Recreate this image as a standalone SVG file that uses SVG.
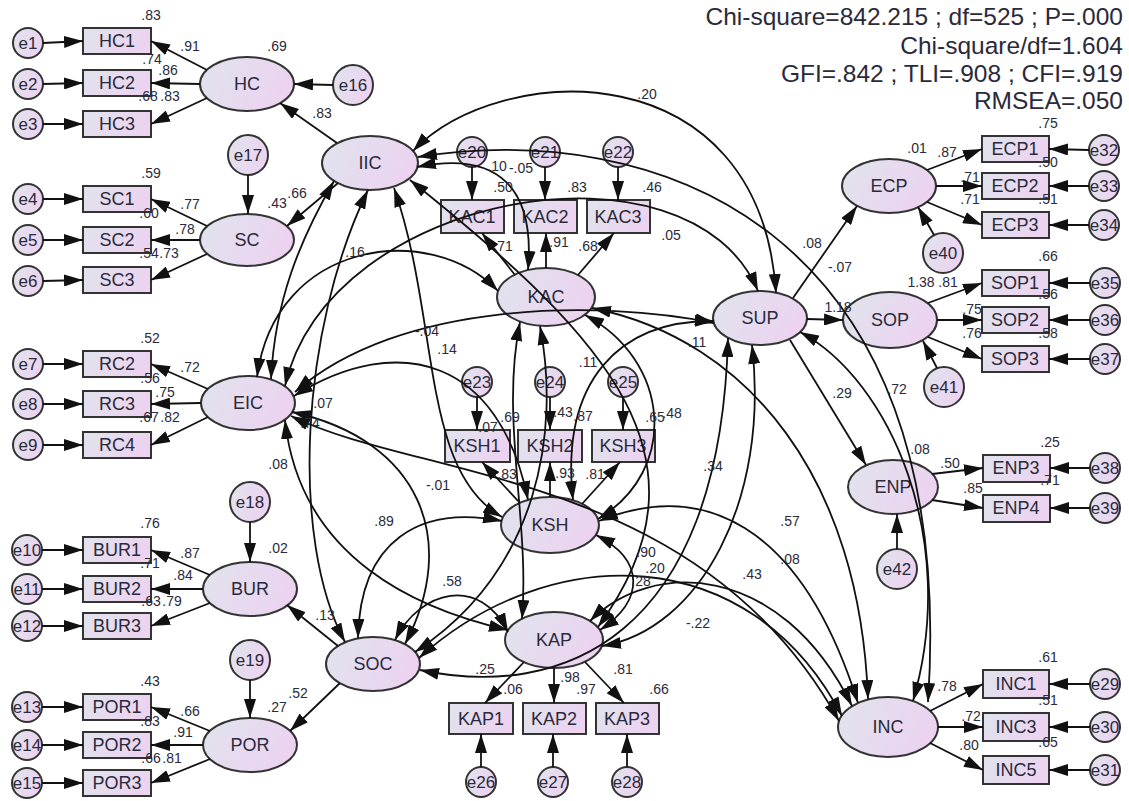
<svg xmlns="http://www.w3.org/2000/svg" width="1129" height="801" viewBox="0 0 1129 801">
<style>
text{font-family:"Liberation Sans",Arial,sans-serif;fill:#2a2a3a}
.n ellipse,.n rect,.n circle{fill:url(#g);stroke:#333;stroke-width:2}
.t{font-size:18px;text-anchor:middle}
.e{font-size:17px;text-anchor:middle}
.l text{font-size:14px;text-anchor:middle}
.c path{fill:none;stroke:#111;stroke-width:1.8}
.s{marker-end:url(#ah)}
.d{marker-start:url(#ah);marker-end:url(#ah)}
.fit{font-size:24.5px;text-anchor:end}
</style>
<defs>
<linearGradient id="g" x1="0" y1="0" x2="1" y2="0.3">
<stop offset="0" stop-color="#e0e4ed"/><stop offset="1" stop-color="#ecd3f0"/>
</linearGradient>
<marker id="ah" viewBox="0 0 19 12" markerWidth="19" markerHeight="12" refX="19" refY="6" markerUnits="userSpaceOnUse" orient="auto-start-reverse">
<path d="M0,0 L19,6 L0,12 z" fill="#111"/>
</marker>
</defs>
<rect width="1129" height="801" fill="#fff"/>

<g class="n" id="HC1"><rect x="83" y="28" width="68" height="26"/><text class="t" x="117" y="47">HC1</text></g>
<g class="n" id="HC2"><rect x="83" y="70" width="68" height="26"/><text class="t" x="117" y="89">HC2</text></g>
<g class="n" id="HC3"><rect x="83" y="111" width="68" height="26"/><text class="t" x="117" y="130">HC3</text></g>
<g class="n" id="SC1"><rect x="83" y="186" width="68" height="26"/><text class="t" x="117" y="205">SC1</text></g>
<g class="n" id="SC2"><rect x="83" y="227" width="68" height="26"/><text class="t" x="117" y="246">SC2</text></g>
<g class="n" id="SC3"><rect x="83" y="267" width="68" height="26"/><text class="t" x="117" y="286">SC3</text></g>
<g class="n" id="RC2"><rect x="83" y="351" width="68" height="26"/><text class="t" x="117" y="370">RC2</text></g>
<g class="n" id="RC3"><rect x="83" y="391" width="68" height="26"/><text class="t" x="117" y="410">RC3</text></g>
<g class="n" id="RC4"><rect x="83" y="432" width="68" height="26"/><text class="t" x="117" y="451">RC4</text></g>
<g class="n" id="BUR1"><rect x="83" y="537" width="68" height="26"/><text class="t" x="117" y="556">BUR1</text></g>
<g class="n" id="BUR2"><rect x="83" y="576" width="68" height="26"/><text class="t" x="117" y="595">BUR2</text></g>
<g class="n" id="BUR3"><rect x="83" y="613" width="68" height="26"/><text class="t" x="117" y="632">BUR3</text></g>
<g class="n" id="POR1"><rect x="83" y="694" width="68" height="26"/><text class="t" x="117" y="713">POR1</text></g>
<g class="n" id="POR2"><rect x="83" y="732" width="68" height="26"/><text class="t" x="117" y="751">POR2</text></g>
<g class="n" id="POR3"><rect x="83" y="770" width="68" height="26"/><text class="t" x="117" y="789">POR3</text></g>

<g class="n" id="e1"><circle cx="28" cy="43" r="15"/><text class="e" x="28" y="49">e1</text></g>
<g class="n" id="e2"><circle cx="28" cy="84" r="15"/><text class="e" x="28" y="90">e2</text></g>
<g class="n" id="e3"><circle cx="28" cy="124" r="15"/><text class="e" x="28" y="130">e3</text></g>
<g class="n" id="e4"><circle cx="28" cy="199" r="15"/><text class="e" x="28" y="205">e4</text></g>
<g class="n" id="e5"><circle cx="28" cy="240" r="15"/><text class="e" x="28" y="246">e5</text></g>
<g class="n" id="e6"><circle cx="28" cy="281" r="15"/><text class="e" x="28" y="287">e6</text></g>
<g class="n" id="e7"><circle cx="28" cy="364" r="15"/><text class="e" x="28" y="370">e7</text></g>
<g class="n" id="e8"><circle cx="28" cy="404" r="15"/><text class="e" x="28" y="410">e8</text></g>
<g class="n" id="e9"><circle cx="28" cy="445" r="15"/><text class="e" x="28" y="451">e9</text></g>
<g class="n" id="e10"><circle cx="27" cy="550" r="15"/><text class="e" x="27" y="556">e10</text></g>
<g class="n" id="e11"><circle cx="27" cy="589" r="15"/><text class="e" x="27" y="595">e11</text></g>
<g class="n" id="e12"><circle cx="27" cy="626" r="15"/><text class="e" x="27" y="632">e12</text></g>
<g class="n" id="e13"><circle cx="27" cy="707" r="15"/><text class="e" x="27" y="713">e13</text></g>
<g class="n" id="e14"><circle cx="27" cy="745" r="15"/><text class="e" x="27" y="751">e14</text></g>
<g class="n" id="e15"><circle cx="27" cy="783" r="15"/><text class="e" x="27" y="789">e15</text></g>

<g class="n" id="HC"><ellipse cx="247" cy="84" rx="47" ry="27"/><text class="t" x="247" y="90">HC</text></g>
<g class="n" id="SC"><ellipse cx="247" cy="240" rx="47" ry="26"/><text class="t" x="247" y="246">SC</text></g>
<g class="n" id="EIC"><ellipse cx="248" cy="403" rx="47" ry="27"/><text class="t" x="248" y="409">EIC</text></g>
<g class="n" id="BUR"><ellipse cx="250" cy="589" rx="47" ry="27"/><text class="t" x="250" y="595">BUR</text></g>
<g class="n" id="POR"><ellipse cx="250" cy="745" rx="47" ry="27"/><text class="t" x="250" y="751">POR</text></g>
<g class="n" id="IIC"><ellipse cx="370" cy="163" rx="48" ry="27"/><text class="t" x="370" y="169">IIC</text></g>
<g class="n" id="SOC"><ellipse cx="373" cy="664" rx="47" ry="27"/><text class="t" x="373" y="670">SOC</text></g>
<g class="n" id="KAC"><ellipse cx="546" cy="297" rx="49" ry="29"/><text class="t" x="546" y="303">KAC</text></g>
<g class="n" id="KSH"><ellipse cx="550" cy="525" rx="49" ry="28"/><text class="t" x="550" y="531">KSH</text></g>
<g class="n" id="KAP"><ellipse cx="554" cy="640" rx="49" ry="28"/><text class="t" x="554" y="646">KAP</text></g>
<g class="n" id="SUP"><ellipse cx="760" cy="318" rx="47" ry="27"/><text class="t" x="760" y="324">SUP</text></g>
<g class="n" id="ECP"><ellipse cx="889" cy="186" rx="47" ry="27"/><text class="t" x="889" y="192">ECP</text></g>
<g class="n" id="SOP"><ellipse cx="890" cy="320" rx="47" ry="28"/><text class="t" x="890" y="326">SOP</text></g>
<g class="n" id="ENP"><ellipse cx="893" cy="487" rx="45" ry="27"/><text class="t" x="893" y="493">ENP</text></g>
<g class="n" id="INC"><ellipse cx="888" cy="727" rx="50" ry="30"/><text class="t" x="888" y="733">INC</text></g>

<g class="n" id="e16"><circle cx="353" cy="85" r="20"/><text class="e" x="353" y="91">e16</text></g>
<g class="n" id="e17"><circle cx="248" cy="155" r="20"/><text class="e" x="248" y="161">e17</text></g>
<g class="n" id="e18"><circle cx="250" cy="502" r="20"/><text class="e" x="250" y="508">e18</text></g>
<g class="n" id="e19"><circle cx="250" cy="660" r="20"/><text class="e" x="250" y="666">e19</text></g>
<g class="n" id="e40"><circle cx="943" cy="253" r="20"/><text class="e" x="943" y="259">e40</text></g>
<g class="n" id="e41"><circle cx="944" cy="387" r="20"/><text class="e" x="944" y="393">e41</text></g>
<g class="n" id="e42"><circle cx="897" cy="569" r="20"/><text class="e" x="897" y="575">e42</text></g>

<g class="n" id="KAC1"><rect x="441" y="200" width="63" height="33"/><text class="t" x="472" y="223">KAC1</text></g>
<g class="n" id="KAC2"><rect x="514" y="200" width="63" height="33"/><text class="t" x="545" y="223">KAC2</text></g>
<g class="n" id="KAC3"><rect x="587" y="200" width="63" height="33"/><text class="t" x="618" y="223">KAC3</text></g>
<g class="n" id="KSH1"><rect x="445" y="430" width="65" height="32"/><text class="t" x="477" y="452">KSH1</text></g>
<g class="n" id="KSH2"><rect x="518" y="430" width="64" height="32"/><text class="t" x="550" y="452">KSH2</text></g>
<g class="n" id="KSH3"><rect x="592" y="430" width="63" height="32"/><text class="t" x="623" y="452">KSH3</text></g>
<g class="n" id="KAP1"><rect x="449" y="703" width="64" height="31"/><text class="t" x="481" y="725">KAP1</text></g>
<g class="n" id="KAP2"><rect x="523" y="703" width="63" height="31"/><text class="t" x="554" y="725">KAP2</text></g>
<g class="n" id="KAP3"><rect x="596" y="703" width="63" height="31"/><text class="t" x="627" y="725">KAP3</text></g>
<g class="n" id="e20"><circle cx="472" cy="152" r="15"/><text class="e" x="472" y="158">e20</text></g>
<g class="n" id="e21"><circle cx="545" cy="152" r="15"/><text class="e" x="545" y="158">e21</text></g>
<g class="n" id="e22"><circle cx="618" cy="152" r="15"/><text class="e" x="618" y="158">e22</text></g>
<g class="n" id="e23"><circle cx="477" cy="382" r="15"/><text class="e" x="477" y="388">e23</text></g>
<g class="n" id="e24"><circle cx="550" cy="382" r="15"/><text class="e" x="550" y="388">e24</text></g>
<g class="n" id="e25"><circle cx="623" cy="382" r="15"/><text class="e" x="623" y="388">e25</text></g>
<g class="n" id="e26"><circle cx="481" cy="782" r="15"/><text class="e" x="481" y="788">e26</text></g>
<g class="n" id="e27"><circle cx="553" cy="782" r="15"/><text class="e" x="553" y="788">e27</text></g>
<g class="n" id="e28"><circle cx="627" cy="782" r="15"/><text class="e" x="627" y="788">e28</text></g>

<g class="n" id="ECP1"><rect x="982" y="136" width="67" height="26"/><text class="t" x="1015" y="155">ECP1</text></g>
<g class="n" id="ECP2"><rect x="982" y="173" width="67" height="26"/><text class="t" x="1015" y="192">ECP2</text></g>
<g class="n" id="ECP3"><rect x="982" y="212" width="67" height="26"/><text class="t" x="1015" y="231">ECP3</text></g>
<g class="n" id="SOP1"><rect x="982" y="270" width="67" height="26"/><text class="t" x="1015" y="289">SOP1</text></g>
<g class="n" id="SOP2"><rect x="982" y="307" width="67" height="26"/><text class="t" x="1015" y="326">SOP2</text></g>
<g class="n" id="SOP3"><rect x="982" y="346" width="67" height="26"/><text class="t" x="1015" y="365">SOP3</text></g>
<g class="n" id="ENP3"><rect x="983" y="455" width="67" height="27"/><text class="t" x="1016" y="474">ENP3</text></g>
<g class="n" id="ENP4"><rect x="983" y="495" width="67" height="27"/><text class="t" x="1016" y="514">ENP4</text></g>
<g class="n" id="INC1"><rect x="983" y="670" width="66" height="28"/><text class="t" x="1016" y="690">INC1</text></g>
<g class="n" id="INC3"><rect x="983" y="713" width="66" height="28"/><text class="t" x="1016" y="733">INC3</text></g>
<g class="n" id="INC5"><rect x="983" y="756" width="66" height="28"/><text class="t" x="1016" y="776">INC5</text></g>
<g class="n" id="e32"><circle cx="1104" cy="150" r="15"/><text class="e" x="1104" y="156">e32</text></g>
<g class="n" id="e33"><circle cx="1104" cy="186" r="15"/><text class="e" x="1104" y="192">e33</text></g>
<g class="n" id="e34"><circle cx="1104" cy="225" r="15"/><text class="e" x="1104" y="231">e34</text></g>
<g class="n" id="e35"><circle cx="1105" cy="283" r="15"/><text class="e" x="1105" y="289">e35</text></g>
<g class="n" id="e36"><circle cx="1105" cy="320" r="15"/><text class="e" x="1105" y="326">e36</text></g>
<g class="n" id="e37"><circle cx="1105" cy="359" r="15"/><text class="e" x="1105" y="365">e37</text></g>
<g class="n" id="e38"><circle cx="1105" cy="468" r="15"/><text class="e" x="1105" y="474">e38</text></g>
<g class="n" id="e39"><circle cx="1105" cy="508" r="15"/><text class="e" x="1105" y="514">e39</text></g>
<g class="n" id="e29"><circle cx="1105" cy="684" r="15"/><text class="e" x="1105" y="690">e29</text></g>
<g class="n" id="e30"><circle cx="1105" cy="727" r="15"/><text class="e" x="1105" y="733">e30</text></g>
<g class="n" id="e31"><circle cx="1105" cy="770" r="15"/><text class="e" x="1105" y="776">e31</text></g>

<g class="c" id="connectors">
<path class="s" d="M43,43 L83,41"/><path class="s" d="M43,84 L83,83"/><path class="s" d="M43,124 L83,124"/>
<path class="s" d="M43,199 L83,199"/><path class="s" d="M43,240 L83,240"/><path class="s" d="M43,281 L83,280"/>
<path class="s" d="M43,364 L83,364"/><path class="s" d="M43,404 L83,404"/><path class="s" d="M43,445 L83,445"/>
<path class="s" d="M42,550 L83,550"/><path class="s" d="M42,589 L83,589"/><path class="s" d="M42,626 L83,626"/>
<path class="s" d="M42,707 L83,707"/><path class="s" d="M42,745 L83,745"/><path class="s" d="M42,783 L83,783"/>
<path class="s" d="M207,70 L151,41"/><path class="s" d="M200,84 L151,83"/><path class="s" d="M207,98 L151,124"/>
<path class="s" d="M207,226 L151,199"/><path class="s" d="M200,240 L151,240"/><path class="s" d="M207,254 L151,280"/>
<path class="s" d="M208,389 L151,364"/><path class="s" d="M201,403 L151,404"/><path class="s" d="M208,417 L151,445"/>
<path class="s" d="M210,575 L151,550"/><path class="s" d="M203,589 L151,589"/><path class="s" d="M210,603 L151,626"/>
<path class="s" d="M210,731 L151,707"/><path class="s" d="M203,745 L151,745"/><path class="s" d="M210,759 L151,783"/>
<path class="s" d="M337,143 L280,103"/><path class="s" d="M338,183 L287,226"/>
<path class="s" d="M338,646 L287,605"/><path class="s" d="M340,683 L290,731"/>
<path class="s" d="M333,85 L294,84"/><path class="s" d="M248,175 L248,214"/>
<path class="s" d="M250,522 L250,562"/><path class="s" d="M250,680 L250,718"/>
<path class="s" d="M793,298 L857,206"/><path class="s" d="M807,319 L843,320"/><path class="s" d="M790,340 L866,465"/>
<path class="s" d="M934,235 L918,207"/><path class="s" d="M937,368 L923,341"/><path class="s" d="M897,549 L897,514"/>
<path class="s" d="M515,275 L482,233"/><path class="s" d="M546,268 L546,233"/><path class="s" d="M578,275 L614,233"/>
<path class="s" d="M472,167 L472,200"/><path class="s" d="M545,167 L545,200"/><path class="s" d="M618,167 L618,200"/>
<path class="s" d="M520,503 L482,462"/><path class="s" d="M550,497 L550,462"/><path class="s" d="M582,504 L620,462"/>
<path class="s" d="M477,397 L477,430"/><path class="s" d="M550,397 L550,430"/><path class="s" d="M623,397 L623,430"/>
<path class="s" d="M524,662 L485,703"/><path class="s" d="M554,668 L554,703"/><path class="s" d="M585,662 L624,703"/>
<path class="s" d="M481,767 L481,734"/><path class="s" d="M553,767 L553,734"/><path class="s" d="M627,767 L627,734"/>
<path class="s" d="M927,170 L982,149"/><path class="s" d="M936,186 L982,186"/><path class="s" d="M927,202 L982,225"/>
<path class="s" d="M928,303 L982,283"/><path class="s" d="M937,320 L982,320"/><path class="s" d="M928,337 L982,359"/>
<path class="s" d="M932,474 L983,468"/><path class="s" d="M932,500 L983,508"/>
<path class="s" d="M930,711 L983,684"/><path class="s" d="M938,727 L983,727"/><path class="s" d="M930,743 L983,770"/>
<path class="s" d="M1089,150 L1049,149"/><path class="s" d="M1089,186 L1049,186"/><path class="s" d="M1089,225 L1049,225"/>
<path class="s" d="M1090,283 L1049,283"/><path class="s" d="M1090,320 L1049,320"/><path class="s" d="M1090,359 L1049,359"/>
<path class="s" d="M1090,468 L1050,468"/><path class="s" d="M1090,508 L1050,508"/>
<path class="s" d="M1090,684 L1049,684"/><path class="s" d="M1090,727 L1049,727"/><path class="s" d="M1090,770 L1049,770"/>
<path class="d" d="M413,151 C500,60 760,50 776,293"/>
<path class="d" d="M418,157 C650,120 960,220 928,702"/>
<path class="d" d="M417,167 C500,150 535,190 528,270"/>
<path class="d" d="M334,181 C300,240 275,300 271,379"/>
<path class="d" d="M368,190 C300,330 290,540 345,642"/>
<path class="d" d="M394,188 C440,320 420,470 502,517"/>
<path class="d" d="M410,180 C610,340 720,460 598,627"/>
<path class="d" d="M257,377 C275,240 430,220 498,291"/>
<path class="d" d="M285,386 C330,190 690,130 758,291"/>
<path class="d" d="M295,392 C400,300 600,300 714,323"/>
<path class="d" d="M294,396 C400,330 500,360 528,500"/>
<path class="d" d="M292,412 C420,440 460,540 405,644"/>
<path class="d" d="M285,420 C300,560 420,610 508,630"/>
<path class="d" d="M291,416 C420,480 700,470 839,721"/>
<path class="d" d="M358,638 C360,540 420,505 502,521"/>
<path class="d" d="M395,640 C420,590 480,575 508,632"/>
<path class="d" d="M540,326 C560,430 540,570 415,652"/>
<path class="d" d="M419,658 C550,540 750,540 842,716"/>
<path class="d" d="M420,670 C560,700 720,640 728,338"/>
<path class="d" d="M585,315 C670,360 680,470 598,519"/>
<path class="d" d="M596,535 C645,560 645,600 600,630"/>
<path class="d" d="M573,500 C560,380 620,320 714,321"/>
<path class="d" d="M599,521 C700,480 800,520 858,703"/>
<path class="d" d="M520,322 C500,420 530,520 522,619"/>
<path class="d" d="M592,308 C750,340 860,480 868,699"/>
<path class="d" d="M602,646 C700,630 770,500 752,345"/>
<path class="d" d="M590,621 C650,560 780,560 852,706"/>
<path class="d" d="M800,332 C890,380 960,540 913,701"/>
</g>

<g class="l" id="labels">
<text x="151" y="20">.83</text><text x="190" y="51">.91</text><text x="277" y="51">.69</text>
<text x="152" y="64">.74</text><text x="168" y="75">.86</text><text x="148" y="101">.68</text><text x="170" y="101">.83</text><text x="322" y="118">.83</text>
<text x="151" y="178">.59</text><text x="190" y="209">.77</text><text x="149" y="218">.60</text><text x="185" y="234">.78</text>
<text x="149" y="258">.54</text><text x="169" y="258">.73</text><text x="277" y="208">.43</text><text x="297" y="198">.66</text><text x="355" y="257">.16</text>
<text x="150" y="343">.52</text><text x="190" y="372">.72</text><text x="150" y="383">.56</text><text x="165" y="397">.75</text>
<text x="149" y="422">.67</text><text x="170" y="422">.82</text><text x="323" y="408">.07</text><text x="310" y="428">.74</text><text x="278" y="469">.08</text>
<text x="384" y="526">.89</text><text x="150" y="528">.76</text><text x="278" y="553">.02</text>
<text x="190" y="558">.87</text><text x="150" y="568">.71</text><text x="183" y="580">.84</text><text x="151" y="606">.63</text><text x="172" y="606">.79</text><text x="325" y="620">.13</text>
<text x="150" y="686">.43</text><text x="190" y="716">.66</text><text x="150" y="726">.83</text><text x="183" y="737">.91</text>
<text x="151" y="763">.66</text><text x="172" y="763">.81</text><text x="277" y="712">.27</text><text x="298" y="698">.52</text>
<text x="647" y="99">.20</text><text x="497" y="171">.10</text><text x="521" y="173">-.05</text><text x="503" y="192">.50</text>
<text x="577" y="192">.83</text><text x="652" y="192">.46</text><text x="503" y="251">.71</text><text x="559" y="247">.91</text>
<text x="588" y="251">.68</text><text x="671" y="240">.05</text><text x="427" y="336">-.04</text>
<text x="447" y="354">.14</text><text x="588" y="367">.11</text><text x="697" y="347">.11</text><text x="510" y="422">.69</text>
<text x="488" y="432">.07</text><text x="563" y="417">.43</text><text x="583" y="421">.87</text><text x="655" y="422">.65</text><text x="672" y="418">.48</text>
<text x="507" y="479">.83</text><text x="565" y="478">.93</text><text x="595" y="479">.81</text><text x="438" y="490">-.01</text>
<text x="713" y="471">.34</text><text x="790" y="526">.57</text><text x="790" y="564">.08</text><text x="646" y="557">.90</text>
<text x="655" y="573">.20</text><text x="641" y="586">.28</text><text x="752" y="579">.43</text><text x="452" y="586">.58</text>
<text x="485" y="674">.25</text><text x="513" y="694">.06</text><text x="570" y="682">.98</text><text x="586" y="694">.97</text>
<text x="623" y="674">.81</text><text x="659" y="694">.66</text><text x="698" y="628">-.22</text>
<text x="1048" y="128">.75</text><text x="917" y="153">.01</text><text x="947" y="157">.87</text><text x="1048" y="167">.50</text>
<text x="970" y="182">.71</text><text x="970" y="204">.71</text><text x="1048" y="204">.51</text><text x="812" y="248">.08</text>
<text x="1048" y="261">.66</text><text x="921" y="287">1.38</text><text x="948" y="287">.81</text><text x="1048" y="299">.56</text>
<text x="972" y="314">.75</text><text x="972" y="338">.76</text><text x="1048" y="338">.58</text><text x="840" y="272">-.07</text>
<text x="838" y="312">1.18</text><text x="842" y="398">.29</text><text x="897" y="394">.72</text><text x="920" y="454">.08</text>
<text x="1050" y="447">.25</text><text x="950" y="468">.50</text><text x="1050" y="485">.71</text><text x="973" y="493">.85</text>
<text x="1048" y="662">.61</text><text x="947" y="691">.78</text><text x="1048" y="705">.51</text><text x="971" y="721">.72</text>
<text x="1048" y="747">.65</text><text x="969" y="750">.80</text>
</g>

<g id="fit">
<text class="fit" x="1123" y="25">Chi-square=842.215 ; df=525 ; P=.000</text>
<text class="fit" x="1123" y="54">Chi-square/df=1.604</text>
<text class="fit" x="1123" y="82">GFI=.842 ; TLI=.908 ; CFI=.919</text>
<text class="fit" x="1123" y="109">RMSEA=.050</text>
</g>
</svg>
